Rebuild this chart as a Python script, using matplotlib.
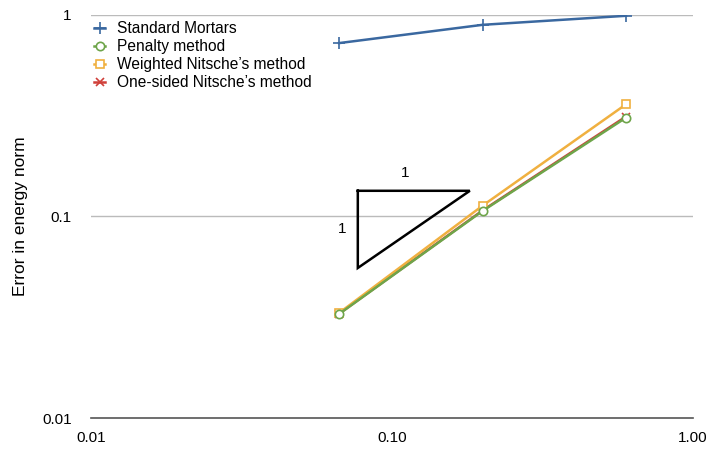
import matplotlib
matplotlib.use("Agg")
import matplotlib.pyplot as plt
from matplotlib.ticker import FixedLocator, FixedFormatter, NullLocator

plt.rcParams['font.family'] = ['Liberation Sans', 'DejaVu Sans']

# mesh size h and energy-norm errors
h = [0.0667, 0.2, 0.6]
mortars = [0.724, 0.892, 0.989]
penalty = [0.0328, 0.1064, 0.309]
weighted = [0.0332, 0.113, 0.360]
one_sided = [0.0329, 0.1070, 0.313]

# slope triangle (x, y corners)
tri_x = [0.077, 0.1815, 0.077, 0.077]
tri_y = [0.134, 0.134, 0.0555, 0.134]

fig = plt.figure(figsize=(7.12, 4.49), dpi=100)
ax = fig.add_axes([0.128, 0.069, 0.845, 0.898])
ax.set_xscale('log')
ax.set_yscale('log')
ax.set_xlim(0.01, 1.0)
ax.set_ylim(0.01, 1.0)

for yv in [0.1, 1.0]:
    ax.axhline(yv, color='#bbbbbb', lw=1.0, zorder=0)

ax.plot(h, one_sided, color='#d0403a', lw=1.8, marker='x', ms=5.5, mew=1.2,
        label='One-sided Nitsche\u2019s method', zorder=2)
ax.plot(h, weighted, color='#f0b040', lw=1.8, marker='s', ms=6, mew=1.2,
        mfc='white', label='Weighted Nitsche\u2019s method', zorder=3)
ax.plot(h, penalty, color='#6ea54a', lw=1.8, marker='o', ms=6, mew=1.2,
        mfc='white', label='Penalty method', zorder=4)
ax.plot(h, mortars, color='#3a68a0', lw=1.8, marker='+', ms=9, mew=1.2,
        label='Standard Mortars', zorder=5)

ax.plot(tri_x, tri_y, color='black', lw=1.8, solid_joinstyle='miter')
ax.text(0.1104, 0.164, '1', fontsize=11, ha='center', va='center')
ax.text(0.0683, 0.0867, '1', fontsize=11, ha='center', va='center')

for s in ['top', 'right', 'left']:
    ax.spines[s].set_visible(False)
ax.spines['bottom'].set_color('#555555')
ax.spines['bottom'].set_linewidth(1.2)

ax.xaxis.set_major_locator(FixedLocator([0.01, 0.1, 1.0]))
ax.xaxis.set_major_formatter(FixedFormatter(['0.01', '0.10', '1.00']))
ax.xaxis.set_minor_locator(NullLocator())
ax.yaxis.set_major_locator(FixedLocator([0.01, 0.1, 1.0]))
ax.yaxis.set_major_formatter(FixedFormatter(['0.01', '0.1', '1']))
ax.yaxis.set_minor_locator(NullLocator())
ax.tick_params(axis='both', length=0, labelsize=11)
ax.tick_params(axis='y', pad=14)
ax.tick_params(axis='x', pad=9)

ax.set_ylabel('Error in energy norm', fontsize=12.5, labelpad=10)

handles, labels = ax.get_legend_handles_labels()
order = [3, 2, 1, 0]
ax.legend([handles[i] for i in order], [labels[i] for i in order],
          loc='upper left', bbox_to_anchor=(-0.005, 1.0), frameon=False,
          fontsize=11.2, handlelength=0.7, handletextpad=0.75,
          labelspacing=0.2, borderaxespad=0)

fig.savefig('out.png', dpi=100)
